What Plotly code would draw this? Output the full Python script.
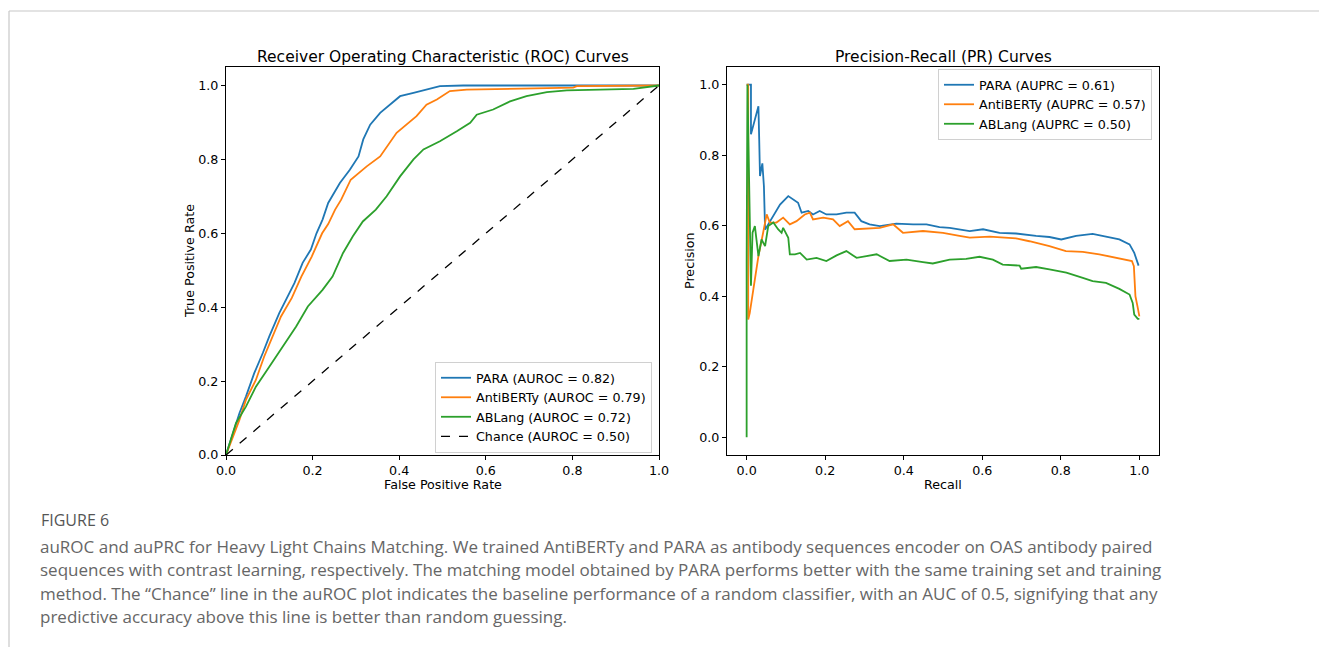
import plotly.graph_objects as go

W, H = 1319, 647

# ---------------- data ----------------
roc_para_fpr = [0.0, 0.031, 0.046, 0.065, 0.085, 0.10, 0.123, 0.139, 0.158, 0.177, 0.196, 0.209, 0.223,
                0.236, 0.263, 0.286, 0.306, 0.317, 0.333, 0.356, 0.379, 0.402, 0.433, 0.463, 0.494, 0.548, 1.0]
roc_para_tpr = [0.0, 0.113, 0.158, 0.221, 0.276, 0.321, 0.384, 0.42, 0.465, 0.52, 0.556, 0.60, 0.637,
                0.682, 0.736, 0.772, 0.808, 0.854, 0.894, 0.926, 0.948, 0.971, 0.98, 0.989, 0.998, 1.0, 1.0]

roc_anti_fpr = [0.0, 0.031, 0.046, 0.069, 0.088, 0.108, 0.127, 0.152, 0.174, 0.198, 0.222, 0.236, 0.252,
                0.266, 0.288, 0.325, 0.356, 0.394, 0.417, 0.44, 0.463, 0.487, 0.517, 0.556, 0.802, 0.81, 1.0]
roc_anti_tpr = [0.0, 0.095, 0.149, 0.203, 0.266, 0.321, 0.375, 0.425, 0.483, 0.537, 0.60, 0.625, 0.664,
                0.691, 0.745, 0.781, 0.808, 0.872, 0.894, 0.917, 0.948, 0.962, 0.985, 0.989, 0.994, 0.998, 1.0]

roc_abl_fpr = [0.0, 0.023, 0.046, 0.069, 0.10, 0.131, 0.162, 0.189, 0.223, 0.246, 0.27, 0.293, 0.316,
               0.346, 0.371, 0.402, 0.433, 0.456, 0.494, 0.533, 0.564, 0.579, 0.617, 0.656, 0.694, 0.741,
               0.787, 0.941, 1.0]
roc_abl_tpr = [0.0, 0.086, 0.131, 0.185, 0.239, 0.293, 0.348, 0.402, 0.447, 0.483, 0.546, 0.592, 0.632,
               0.664, 0.70, 0.754, 0.80, 0.827, 0.849, 0.876, 0.899, 0.921, 0.935, 0.957, 0.971, 0.982,
               0.987, 0.991, 1.0]

chance_x = [0.0, 1.0]
chance_y = [0.0, 1.0]

pr_para_rec = [0.0, 0.011, 0.011, 0.03, 0.032, 0.034, 0.040, 0.044, 0.047, 0.068, 0.085, 0.106, 0.119,
               0.131, 0.14, 0.157, 0.169, 0.186, 0.203, 0.229, 0.254, 0.275, 0.292, 0.313, 0.339, 0.381,
               0.424, 0.458, 0.491, 0.517, 0.568, 0.602, 0.644, 0.686, 0.737, 0.771, 0.801, 0.839, 0.881,
               0.915, 0.949, 0.975, 0.987, 0.998]
pr_para_prec = [1.0, 1.0, 0.859, 0.939, 0.845, 0.741, 0.777, 0.712, 0.589, 0.627, 0.66, 0.684, 0.675,
                0.665, 0.637, 0.642, 0.632, 0.642, 0.632, 0.632, 0.637, 0.637, 0.613, 0.604, 0.599, 0.606,
                0.604, 0.604, 0.596, 0.594, 0.585, 0.59, 0.58, 0.578, 0.571, 0.568, 0.561, 0.571, 0.577,
                0.568, 0.561, 0.547, 0.523, 0.487]

pr_anti_rec = [0.0, 0.004, 0.004, 0.008, 0.017, 0.03, 0.042, 0.051, 0.059, 0.076, 0.093, 0.11, 0.127,
               0.148, 0.161, 0.169, 0.195, 0.22, 0.237, 0.258, 0.275, 0.305, 0.339, 0.373, 0.398, 0.449,
               0.5, 0.542, 0.568, 0.619, 0.686, 0.72, 0.771, 0.813, 0.856, 0.898, 0.941, 0.981, 0.986,
               0.99, 0.996, 1.0]
pr_anti_prec = [1.0, 1.0, 0.334, 0.353, 0.419, 0.514, 0.58, 0.632, 0.609, 0.609, 0.623, 0.604, 0.613,
                0.632, 0.637, 0.618, 0.623, 0.618, 0.599, 0.613, 0.59, 0.591, 0.594, 0.604, 0.58, 0.585,
                0.58, 0.571, 0.566, 0.569, 0.564, 0.556, 0.542, 0.528, 0.526, 0.519, 0.509, 0.50, 0.485,
                0.40, 0.367, 0.343]

pr_abl_rec = [0.0, 0.0, 0.002, 0.005, 0.008, 0.011, 0.015, 0.021, 0.03, 0.038, 0.047, 0.055, 0.068,
              0.08, 0.089, 0.093, 0.106, 0.11, 0.123, 0.136, 0.153, 0.178, 0.203, 0.229, 0.254, 0.28,
              0.305, 0.331, 0.364, 0.407, 0.449, 0.474, 0.517, 0.559, 0.593, 0.627, 0.652, 0.695, 0.699,
              0.737, 0.771, 0.814, 0.856, 0.881, 0.915, 0.949, 0.975, 0.983, 0.987, 0.996, 1.0]
pr_abl_prec = [0.0, 0.5, 1.0, 0.80, 0.60, 0.43, 0.58, 0.599, 0.514, 0.561, 0.542, 0.599, 0.609,
               0.59, 0.58, 0.594, 0.566, 0.519, 0.519, 0.523, 0.504, 0.509, 0.50, 0.516, 0.528, 0.509,
               0.514, 0.519, 0.50, 0.504, 0.497, 0.493, 0.504, 0.506, 0.512, 0.504, 0.49, 0.487, 0.478,
               0.483, 0.476, 0.467, 0.452, 0.443, 0.438, 0.421, 0.405, 0.381, 0.348, 0.336, 0.336]

roc_names = ["PARA (AUROC = 0.82)", "AntiBERTy (AUROC = 0.79)", "ABLang (AUROC = 0.72)", "Chance (AUROC = 0.50)"]
pr_names = ["PARA (AUPRC = 0.61)", "AntiBERTy (AUPRC = 0.57)", "ABLang (AUPRC = 0.50)"]
tick_vals = [0.0, 0.2, 0.4, 0.6, 0.8, 1.0]

roc_title = "Receiver Operating Characteristic (ROC) Curves"
pr_title = "Precision-Recall (PR) Curves"
roc_xlabel, roc_ylabel = "False Positive Rate", "True Positive Rate"
pr_xlabel, pr_ylabel = "Recall", "Precision"
caption_head = "FIGURE 6"
caption_lines = [
    "auROC and auPRC for Heavy Light Chains Matching. We trained AntiBERTy and PARA as antibody sequences encoder on OAS antibody paired",
    "sequences with contrast learning, respectively. The matching model obtained by PARA performs better with the same training set and training",
    "method. The \u201cChance\u201d line in the auROC plot indicates the baseline performance of a random classifier, with an AUC of 0.5, signifying that any",
    "predictive accuracy above this line is better than random guessing.",
]

# ---------------- styling ----------------
BLUE, ORANGE, GREEN = "#1f77b4", "#ff7f0e", "#2ca02c"
FONT = "DejaVu Sans"
LW = 1.8


def px(x):
    return x / W


def py(y):
    return 1 - y / H


# axes boxes in pixels
ROC_L, ROC_R, AX_T, AX_B = 226, 659, 67, 455
PR_L, PR_R = 727, 1159

fig = go.Figure()

for xs, ys, c, n in [(roc_para_fpr, roc_para_tpr, BLUE, roc_names[0]),
                     (roc_anti_fpr, roc_anti_tpr, ORANGE, roc_names[1]),
                     (roc_abl_fpr, roc_abl_tpr, GREEN, roc_names[2])]:
    fig.add_trace(go.Scatter(x=xs, y=ys, mode="lines", name=n, line=dict(color=c, width=LW),
                             xaxis="x", yaxis="y", legend="legend"))
fig.add_trace(go.Scatter(x=chance_x, y=chance_y, mode="lines", name=roc_names[3],
                         line=dict(color="black", width=1.3, dash="dash"),
                         xaxis="x", yaxis="y", legend="legend"))

for xs, ys, c, n in [(pr_para_rec, pr_para_prec, BLUE, pr_names[0]),
                     (pr_anti_rec, pr_anti_prec, ORANGE, pr_names[1]),
                     (pr_abl_rec, pr_abl_prec, GREEN, pr_names[2])]:
    fig.add_trace(go.Scatter(x=xs, y=ys, mode="lines", name=n, line=dict(color=c, width=LW),
                             xaxis="x2", yaxis="y2", legend="legend2"))

axis_common = dict(showline=True, mirror=True, linecolor="black", linewidth=1,
                   ticks="outside", ticklen=4, tickwidth=1, tickcolor="black",
                   showgrid=False, zeroline=False, tickvals=tick_vals, tickformat=".1f",
                   automargin=False,
                   tickfont=dict(family=FONT, size=12.7, color="black"))

leg_common = dict(font=dict(family=FONT, size=12.7, color="black"), bgcolor="rgba(255,255,255,0.8)",
                  bordercolor="#d0d0d0", borderwidth=1, tracegroupgap=0, itemwidth=30)

fig.update_layout(
    template="none",
    width=W, height=H, margin=dict(l=0, r=0, t=0, b=0, pad=0, autoexpand=False),
    paper_bgcolor="white", plot_bgcolor="white",
    xaxis=dict(domain=[px(ROC_L), px(ROC_R)], range=[0, 1], anchor="y", **axis_common),
    yaxis=dict(domain=[py(AX_B), py(AX_T)], range=[0, 1.05], anchor="x", **axis_common),
    xaxis2=dict(domain=[px(PR_L), px(PR_R)], range=[-0.05, 1.05], anchor="y2", **axis_common),
    yaxis2=dict(domain=[py(AX_B), py(AX_T)], range=[-0.05, 1.05], anchor="x2", **axis_common),
    legend=dict(x=px(652), y=py(453), xanchor="right", yanchor="bottom", **leg_common),
    legend2=dict(x=px(1152), y=py(69), xanchor="right", yanchor="top", **leg_common),
    showlegend=True,
)

ann = []
# subplot titles
for t, x in [(roc_title, (ROC_L + ROC_R) / 2), (pr_title, (PR_L + PR_R) / 2)]:
    ann.append(dict(text=t, x=px(x), y=py(57), xref="paper", yref="paper", showarrow=False,
                    xanchor="center", yanchor="middle", font=dict(family=FONT, size=15.5, color="black")))
# axis titles
for t, x in [(roc_xlabel, (ROC_L + ROC_R) / 2), (pr_xlabel, (PR_L + PR_R) / 2)]:
    ann.append(dict(text=t, x=px(x), y=py(484), xref="paper", yref="paper", showarrow=False,
                    xanchor="center", yanchor="middle", font=dict(family=FONT, size=12.7, color="black")))
for t, x in [(roc_ylabel, 189), (pr_ylabel, 689)]:
    ann.append(dict(text=t, x=px(x), y=py((AX_T + AX_B) / 2), xref="paper", yref="paper", showarrow=False,
                    textangle=-90, xanchor="center", yanchor="middle",
                    font=dict(family=FONT, size=12.7, color="black")))
# caption
ann.append(dict(text=caption_head, x=px(39), y=py(520), xref="paper", yref="paper", showarrow=False,
                xanchor="left", yanchor="middle", font=dict(family="Open Sans", size=16, color="#555555")))
for i, line in enumerate(caption_lines):
    ann.append(dict(text=line, x=px(38), y=py(546 + 23.5 * i), xref="paper", yref="paper", showarrow=False,
                    xanchor="left", yanchor="middle", font=dict(family="Open Sans", size=17, color="#666666")))

fig.update_layout(annotations=ann)

# frame lines of the figure panel
fig.update_layout(shapes=[
    dict(type="line", xref="paper", yref="paper", x0=px(9), x1=1, y0=py(11), y1=py(11),
         line=dict(color="#c8c8c8", width=1.2)),
    dict(type="line", xref="paper", yref="paper", x0=px(9), x1=px(9), y0=py(11), y1=0,
         line=dict(color="#c8c8c8", width=1.2)),
])

fig.write_html("out.html",
               post_script="document.body.style.margin='0';document.body.style.overflow='hidden';")
